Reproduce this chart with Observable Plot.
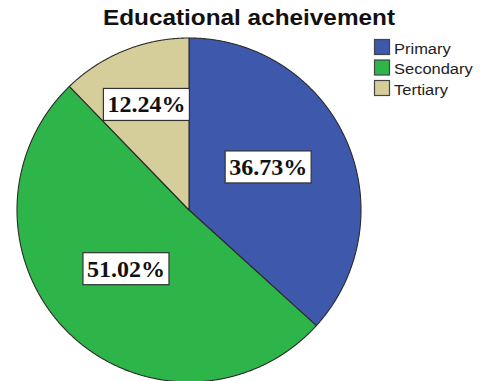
<!DOCTYPE html>
<html>
<head>
<meta charset="utf-8">
<script src="https://cdn.jsdelivr.net/npm/d3@7"></script>
<script src="https://cdn.jsdelivr.net/npm/@observablehq/plot@0.6"></script>
<style>
  html, body { margin: 0; padding: 0; background: #fff; }
  #wrap { position: relative; width: 484px; height: 381px; overflow: hidden; }
</style>
</head>
<body>
<div id="wrap"></div>
<script>
// ---- data ----
const categories = ["Primary", "Secondary", "Tertiary"];
const percentages = [36.73, 51.02, 12.24];
const chartTitle = "Educational acheivement";

// ---- style / layout ----
const sliceColors = ["#3e58ab", "#2eb54a", "#d5ce9b"];
const W = 484, H = 381;
const CX = 188.5, CY = 209.5, R = 172;
const labelRadius = [0.523, 0.502, 0.66];
const labelNudgeDeg = [-4.5, 2.8, 0];

const arcs = d3.pie().sort(null).value(d => d)(percentages);

const slicePts = [];
arcs.forEach((a, i) => {
  const cat = categories[i];
  slicePts.push({cat, x: 0, y: 0});
  const n = Math.ceil((a.endAngle - a.startAngle) / 0.004);
  for (let k = 0; k <= n; k++) {
    const t = a.startAngle + (a.endAngle - a.startAngle) * k / n;
    slicePts.push({cat, x: Math.sin(t), y: Math.cos(t)});
  }
  slicePts.push({cat, x: 0, y: 0});
});

const labels = arcs.map((a, i) => {
  const t = (a.startAngle + a.endAngle) / 2 + labelNudgeDeg[i] * Math.PI / 180;
  const r = labelRadius[i];
  return {cat: categories[i], x: r * Math.sin(t), y: r * Math.cos(t), text: percentages[i].toFixed(2) + "%"};
});

const chart = Plot.plot({
  width: W,
  height: H,
  margin: 0,
  style: {background: "#fff", overflow: "hidden"},
  x: {domain: [-1, 1], range: [CX - R, CX + R], axis: null},
  y: {domain: [-1, 1], range: [CY + R, CY - R], axis: null},
  color: {domain: categories, range: sliceColors},
  marks: [
    Plot.line(slicePts, {x: "x", y: "y", z: "cat", fill: "cat", stroke: "#2b2b2b", strokeWidth: 1.1, strokeLinejoin: "round"}),
    Plot.text(labels, {x: "x", y: "y", text: "text", fontFamily: "Liberation Serif", fontWeight: "bold", fontSize: 24, fill: "#111"})
  ]
});

document.getElementById("wrap").appendChild(chart);

const svg = d3.select(chart);

// label boxes
const textGroups = svg.selectAll('g[aria-label="text"]');
textGroups.selectAll("text").each(function() {
  const b = this.getBBox();
  const padX = 4, padY = 3;
  d3.select(this.parentNode).insert("rect", () => this)
    .attr("x", b.x - padX)
    .attr("y", b.y - padY)
    .attr("width", b.width + 2 * padX)
    .attr("height", b.height + 2 * padY)
    .attr("transform", this.getAttribute("transform"))
    .attr("fill", "#fff")
    .attr("stroke", "#333")
    .attr("stroke-width", 1.2);
});

// title
const title = svg.append("text")
  .attr("x", 249)
  .attr("y", 25)
  .attr("text-anchor", "middle")
  .attr("font-family", "Liberation Sans, Arial, sans-serif")
  .attr("font-weight", "bold")
  .attr("font-size", 22)
  .attr("fill", "#111")
  .text(chartTitle);
title.attr("textLength", 292).attr("lengthAdjust", "spacingAndGlyphs");

// legend
const leg = svg.append("g").attr("text-anchor", "start");
categories.forEach((c, i) => {
  leg.append("rect")
    .attr("x", 374.5)
    .attr("y", 39.5 + i * 20.5)
    .attr("width", 15)
    .attr("height", 15)
    .attr("fill", sliceColors[i])
    .attr("stroke", "#444")
    .attr("stroke-width", 1.2);
  const t = leg.append("text")
    .attr("x", 394)
    .attr("y", 53.5 + i * 20.5)
    .attr("text-anchor", "start")
    .attr("font-family", "Liberation Sans, Arial, sans-serif")
    .attr("font-size", 15.4)
    .attr("fill", "#222")
    .text(c);
  const len = t.node().getComputedTextLength();
  t.attr("textLength", len * 1.07).attr("lengthAdjust", "spacingAndGlyphs");
});
</script>
</body>
</html>
